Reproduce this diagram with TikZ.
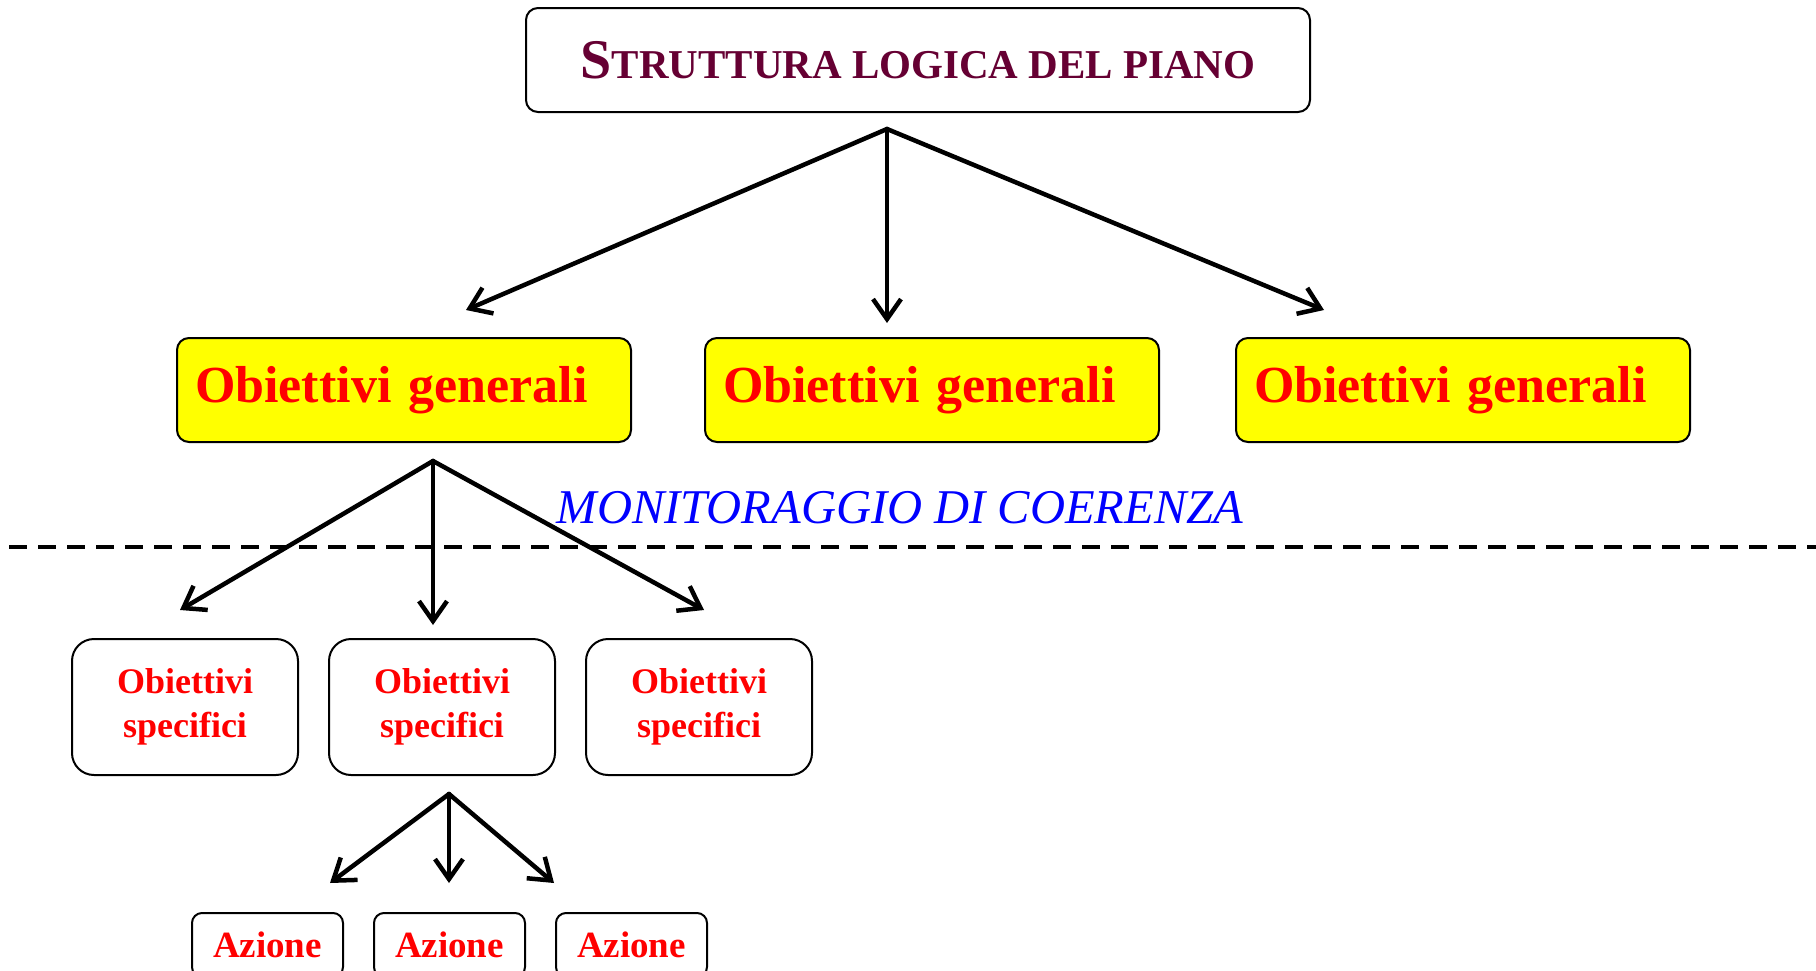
\documentclass[tikz,border=0pt]{standalone}
\usepackage{fontspec}
\setmainfont{Liberation Serif}
\usetikzlibrary{arrows.meta}
\definecolor{titlecol}{RGB}{102,0,51}
\definecolor{objred}{RGB}{255,0,0}
\definecolor{monblue}{RGB}{0,0,255}
\definecolor{boxyellow}{RGB}{255,255,0}
\begin{document}
\begin{tikzpicture}[x=1pt,y=-1pt,
  conn/.style={line width=4.5pt,line cap=round,-{Straight Barb[length=20pt,width=28pt,line width=4.5pt]}},
  titlebox/.style={draw,line width=2pt,rounded corners=12pt,minimum width=784pt,minimum height=104pt,inner sep=0pt,text=titlecol,font=\bfseries},
  genbox/.style={draw,line width=2pt,rounded corners=12pt,fill=boxyellow,minimum height=104pt,text width=418pt,inner xsep=18pt,inner ysep=0pt,align=left,text=objred,font=\fontsize{52}{60}\selectfont\bfseries},
  specbox/.style={draw,line width=2pt,rounded corners=22pt,minimum width=226pt,minimum height=136pt,inner sep=0pt,align=center,text=objred,font=\fontsize{36}{44}\selectfont\bfseries},
  actbox/.style={draw,line width=2pt,rounded corners=10pt,minimum width=151pt,minimum height=64pt,inner sep=0pt,text=objred,font=\fontsize{37}{44}\selectfont\bfseries}
]
\useasboundingbox (0,0) rectangle (1816,970);
\fill[white] (0,0) rectangle (1816,970);

\node[titlebox] (title) at (918,60) {\fontsize{56}{60}\selectfont S\fontsize{41}{60}\selectfont TRUTTURA LOGICA DEL PIANO};

\node[genbox] (g1) at (404,390) {Obiettivi generali};
\node[genbox] (g2) at (932,390) {Obiettivi generali};
\node[genbox] (g3) at (1463,390) {Obiettivi generali};

\node[text=monblue,font=\fontsize{48.5}{50}\selectfont\itshape,anchor=base] (mon) at (900,523) {MONITORAGGIO DI COERENZA};

\node[specbox] (s1) at (185,707) {Obiettivi\\specifici};
\node[specbox] (s2) at (442,707) {Obiettivi\\specifici};
\node[specbox] (s3) at (699,707) {Obiettivi\\specifici};

\node[actbox] (a1) at (267.5,945) {Azione};
\node[actbox] (a2) at (449.5,945) {Azione};
\node[actbox] (a3) at (631.5,945) {Azione};

% fork points and arrow ends
\coordinate (f1) at (887,129);
\coordinate (e11) at (466,310);
\coordinate (e12) at (887,323);
\coordinate (e13) at (1324,310);
\coordinate (f2) at (433,461);
\coordinate (e21) at (180,610);
\coordinate (e22) at (433,625);
\coordinate (e23) at (704,610);
\coordinate (f3) at (449,794);
\coordinate (e31) at (330,883);
\coordinate (e32) at (449,883);
\coordinate (e33) at (554,883);
\coordinate (dl) at (9,547);
\coordinate (dr) at (1816,547);

\draw[conn] (f1) -- (e11);
\draw[conn] (f1) -- (e12);
\draw[conn] (f1) -- (e13);
\draw[conn] (f2) -- (e21);
\draw[conn] (f2) -- (e22);
\draw[conn] (f2) -- (e23);
\draw[conn] (f3) -- (e31);
\draw[conn] (f3) -- (e32);
\draw[conn] (f3) -- (e33);

\draw[line width=4pt,dash pattern=on 18pt off 11pt] (dl) -- (dr);
\end{tikzpicture}
\end{document}
